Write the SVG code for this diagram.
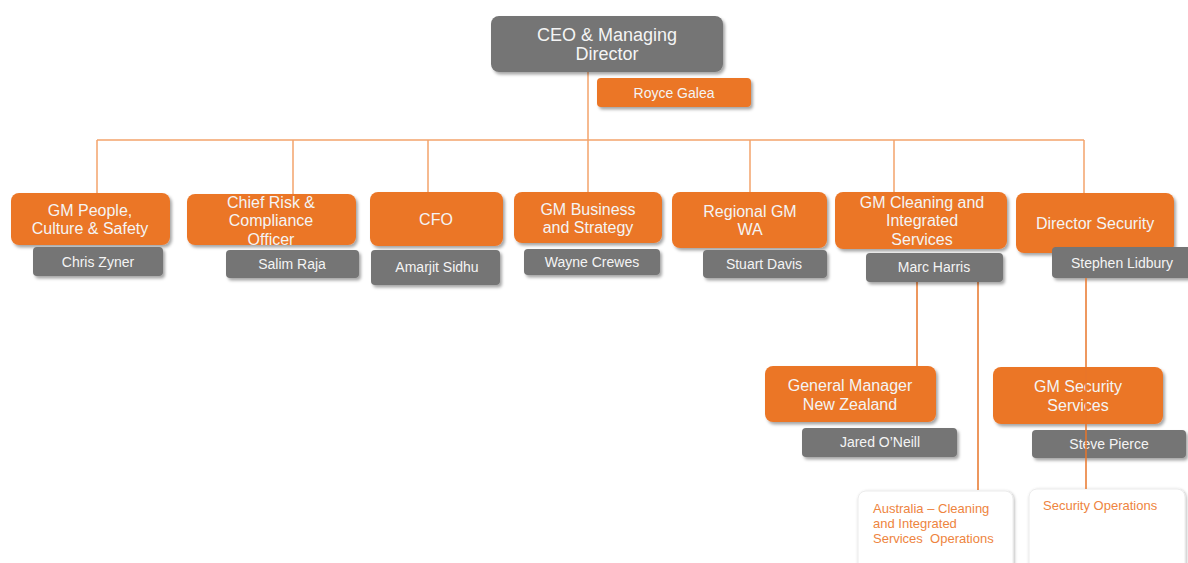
<svg xmlns="http://www.w3.org/2000/svg" width="1188" height="563" viewBox="0 0 1188 563">
<defs>
<filter id="sh" x="-10%" y="-20%" width="130%" height="160%">
<feDropShadow dx="2" dy="2.5" stdDeviation="1.6" flood-color="#000" flood-opacity="0.35"/>
</filter>
<filter id="sw" x="-10%" y="-20%" width="130%" height="160%">
<feDropShadow dx="1" dy="1" stdDeviation="1.8" flood-color="#000" flood-opacity="0.3"/>
</filter>
<style>
.o{fill:#EB7626;filter:url(#sh)}
.g{fill:#747474;filter:url(#sh)}
.w{fill:#fff;stroke:#ececec;stroke-width:1;filter:url(#sw)}
text{font-family:"Liberation Sans",Arial,sans-serif;fill:#F4F4F4;text-anchor:middle}
.t{font-size:16px}
.n{font-size:14px}
.s{font-size:13px;fill:#EE8440;text-anchor:start}
.top{stroke:#F3A46C;stroke-width:1.5;fill:none}
.low{stroke:#E8762A;stroke-width:1.5;fill:none}
</style>
</defs>
<rect width="1188" height="563" fill="#fff"/>
<g id="connectors">
<path class="top" d="M97 140H1084M588 72V192M97 140V193M293 140V194M428 140V192M750 140V192M894 140V192M1084 140V193"/>
<path class="low" d="M917 282V366M978 282V490"/>
</g>
<g id="ceo">
<rect class="g" x="491" y="16" width="232" height="56" rx="8"/>
<text x="607" y="41" style="font-size:18px">CEO &amp; Managing</text>
<text x="607" y="60" style="font-size:18px">Director</text>
<rect class="o" x="597" y="78" width="154" height="29" rx="4"/>
<text class="n" x="674" y="98">Royce Galea</text>
</g>
<g id="gm-people">
<rect class="o" x="11" y="193" width="159" height="52" rx="8"/>
<text class="t" x="90" y="216">GM People,</text>
<text class="t" x="90" y="234">Culture &amp; Safety</text>
<rect class="g" x="33" y="247" width="130" height="29" rx="4"/>
<text class="n" x="98" y="267">Chris Zyner</text>
</g>
<g id="chief-risk">
<rect class="o" x="187" y="194" width="169" height="51" rx="8"/>
<text class="t" x="271" y="208">Chief Risk &amp;</text>
<text class="t" x="271" y="226">Compliance</text>
<text class="t" x="271" y="245">Officer</text>
<rect class="g" x="226" y="250" width="133" height="28" rx="4"/>
<text class="n" x="292" y="269">Salim Raja</text>
</g>
<g id="cfo">
<rect class="o" x="370" y="192" width="133" height="54" rx="8"/>
<text class="t" x="436" y="225">CFO</text>
<rect class="g" x="371" y="250" width="129" height="35" rx="4"/>
<text class="n" x="437" y="272">Amarjit Sidhu</text>
</g>
<g id="gm-business">
<rect class="o" x="514" y="192" width="148" height="51" rx="8"/>
<text class="t" x="588" y="215">GM Business</text>
<text class="t" x="588" y="233">and Strategy</text>
<rect class="g" x="524" y="249" width="136" height="26" rx="4"/>
<text class="n" x="592" y="267">Wayne Crewes</text>
</g>
<g id="regional-gm">
<rect class="o" x="672" y="192" width="155" height="56" rx="8"/>
<text class="t" x="750" y="217">Regional GM</text>
<text class="t" x="750" y="235">WA</text>
<rect class="g" x="703" y="250" width="124" height="28" rx="4"/>
<text class="n" x="764" y="269">Stuart Davis</text>
</g>
<g id="gm-cleaning">
<rect class="o" x="835" y="192" width="172" height="57" rx="8"/>
<text class="t" x="922" y="208">GM Cleaning and</text>
<text class="t" x="922" y="226">Integrated</text>
<text class="t" x="922" y="245">Services</text>
<rect class="g" x="866" y="253" width="137" height="29" rx="4"/>
<text class="n" x="934" y="272">Marc Harris</text>
</g>
<g id="director-security">
<rect class="o" x="1016" y="193" width="158" height="60" rx="8"/>
<text class="t" x="1095" y="229">Director Security</text>
<rect class="g" x="1052" y="247" width="140" height="31" rx="4"/>
<text class="n" x="1122" y="268">Stephen Lidbury</text>
</g>
<g id="gm-nz">
<rect class="o" x="765" y="366" width="171" height="56" rx="8"/>
<text class="t" x="850" y="391">General Manager</text>
<text class="t" x="850" y="410">New Zealand</text>
<rect class="g" x="802" y="428" width="155" height="29" rx="4"/>
<text class="n" x="880" y="447">Jared O’Neill</text>
</g>
<g id="gm-security-services">
<rect class="o" x="993" y="367" width="170" height="57" rx="8"/>
<text class="t" x="1078" y="392">GM Security</text>
<text class="t" x="1078" y="411">Services</text>
<rect class="g" x="1032" y="430" width="154" height="28" rx="4"/>
<text class="n" x="1109" y="449">Steve Pierce</text>
</g>
<g id="australia-ops">
<rect class="w" x="858" y="491" width="155" height="85" rx="8"/>
<text class="s" x="873" y="513">Australia – Cleaning</text>
<text class="s" x="873" y="528">and Integrated</text>
<text class="s" x="873" y="543" xml:space="preserve">Services  Operations</text>
</g>
<g id="security-ops">
<rect class="w" x="1029" y="489" width="156" height="87" rx="8"/>
<text class="s" x="1043" y="510">Security Operations</text>
</g>
<g id="connectors-over">
<path class="low" d="M1086 278V489"/>
</g>
</svg>
